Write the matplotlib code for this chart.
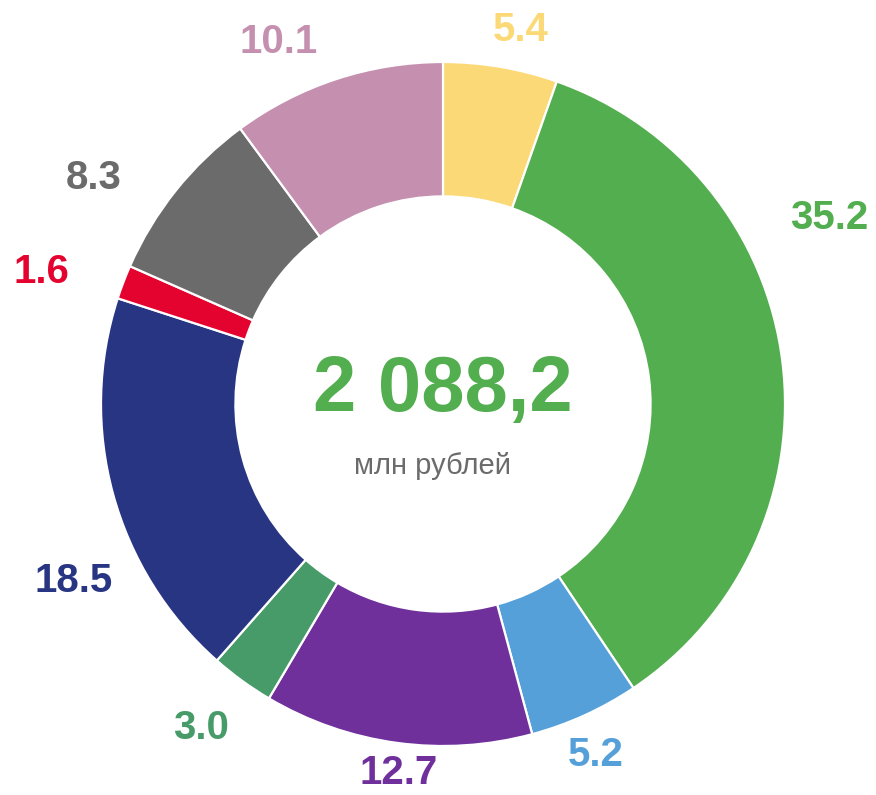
import matplotlib.pyplot as plt

plt.rcParams['font.family'] = ['Liberation Sans', 'DejaVu Sans']

# Segment shares, clockwise from the top
values = [5.4, 35.2, 5.2, 12.7, 3.0, 18.5, 1.6, 8.3, 10.1]
labels = ['5.4', '35.2', '5.2', '12.7', '3.0', '18.5', '1.6', '8.3', '10.1']
colors = ['#FCD977', '#52AE4F', '#55A0D9', '#70309C', '#469B68',
          '#283583', '#E4032E', '#6B6B6B', '#C58FAF']
total_text = '2 088,2'
unit_text = 'млн рублей'

# label placement (axes units, ring radius = 1)
label_pos = [(0.227, 1.093), (1.128, 0.545), (0.446, -1.026), (-0.131, -1.079),
             (-0.708, -0.948), (-1.079, -0.519), (-1.175, 0.385), (-1.020, 0.662),
             (-0.481, 1.058)]

R = 342  # ring radius in pixels
cx, cy = 443, 404  # ring centre in pixels (from top-left)

fig = plt.figure(figsize=(8.76, 7.95), dpi=100)
ax = fig.add_axes([0, 0, 1, 1])

ax.pie(values, colors=colors, startangle=90, counterclock=False, radius=1.0,
       wedgeprops=dict(width=0.393, edgecolor='white', linewidth=1.6))

for lab, col, (x, y) in zip(labels, colors, label_pos):
    ax.text(x, y, lab, color=col, fontsize=29, fontweight='bold',
            ha='center', va='center')

ax.text(0, 0.04, total_text, color='#52AE4F', fontsize=56, fontweight='bold',
        ha='center', va='center')
ax.text(-0.03, -0.18, unit_text, color='#6B6B6B', fontsize=21,
        ha='center', va='center')

ax.set_aspect('equal')
ax.set_xlim(-cx / R, (876 - cx) / R)
ax.set_ylim(-(795 - cy) / R, cy / R)
ax.axis('off')

fig.savefig('out.png', dpi=100)
